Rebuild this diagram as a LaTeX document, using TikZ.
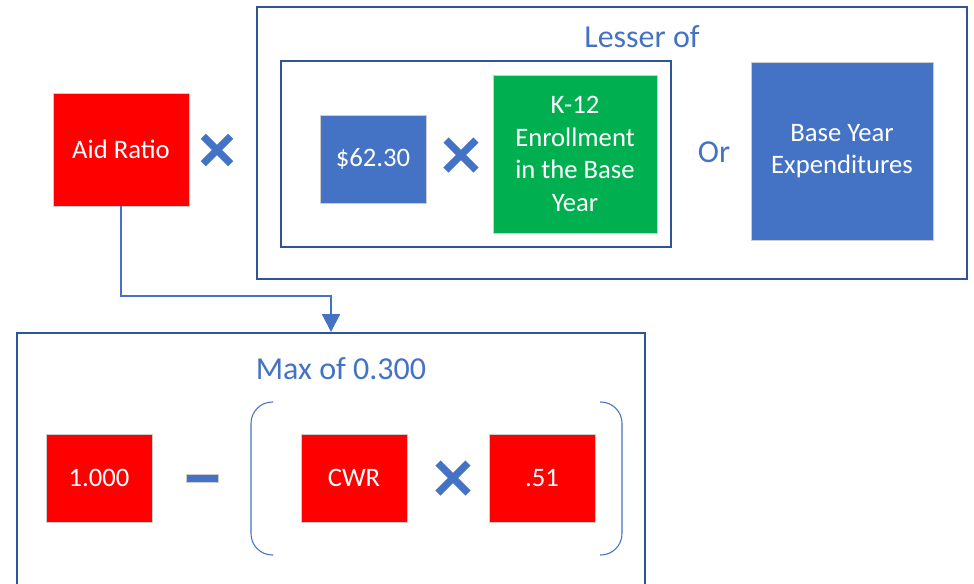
\documentclass[tikz,border=0pt]{standalone}
\usepackage{fontspec}
\setmainfont{Carlito}
\usetikzlibrary{shapes.misc,arrows.meta}
\definecolor{accblue}{HTML}{4472C4}
\definecolor{framebl}{HTML}{2F5597}
\definecolor{boxred}{HTML}{FF0000}
\definecolor{boxgreen}{HTML}{00B050}
\tikzset{
  box/.style={draw=black!20, line width=0.6pt, text=white, align=center, inner sep=0pt,
    font=\fontsize{20}{24.5}\selectfont},
  redbox/.style={box, fill=boxred},
  bluebox/.style={box, fill=accblue},
  greenbox/.style={box, fill=boxgreen},
  frame/.style={draw=framebl, line width=1.5pt, inner sep=0pt},
  timesmark/.style={cross out, draw=accblue, line width=5.5pt, inner sep=0pt},
  bluetext/.style={text=accblue, inner sep=0pt, font=\fontsize{24}{28}\selectfont},
}
\begin{document}
\begin{tikzpicture}[x=0.75pt,y=-0.75pt]
\useasboundingbox (0,0) rectangle (974,583);
\begin{scope}
\clip (0,0) rectangle (974,583);
% frames
\node[frame, minimum width=532.5pt, minimum height=204pt] (lesser) at (612,143) {};
\node[frame, minimum width=292.5pt, minimum height=139.5pt] (inner) at (476,154) {};
\node[frame, minimum width=471pt, minimum height=225pt] (maxbox) at (331,483) {};
\end{scope}
% labels
\node[bluetext] (lesserlbl) at (642,37) {Lesser of};
\node[bluetext] (orlbl) at (714,152) {Or};
\node[bluetext] (maxlbl) at (341,369) {Max of 0.300};
% boxes
\node[redbox, minimum width=102pt, minimum height=84.75pt] (aid) at (121,149.5) {Aid Ratio};
\node[bluebox, minimum width=79.5pt, minimum height=66pt] (rate) at (373,159) {\$62.30};
\node[greenbox, minimum width=123pt, minimum height=118.5pt] (enr) at (575,154) {K-12\\Enrollment\\in the Base\\Year};
\node[bluebox, minimum width=136.5pt, minimum height=133.5pt] (exp) at (842,151) {Base Year\\Expenditures};
\node[redbox, minimum width=79.5pt, minimum height=66pt] (one) at (99,478) {1.000};
\node[redbox, minimum width=79.5pt, minimum height=66pt] (cwr) at (354,478) {CWR};
\node[redbox, minimum width=79.5pt, minimum height=66pt] (fiftyone) at (542,478) {.51};
% operators
\node[timesmark, minimum size=15pt] (t1) at (217,150) {};
\node[timesmark, minimum size=17pt] (t2) at (461,155) {};
\node[timesmark, minimum size=17pt] (t3) at (453,478) {};
\node[fill=accblue, draw=black!20, line width=0.4pt, minimum width=24pt, minimum height=6pt, inner sep=0pt] (minus) at (202,478) {};
% brackets
\coordinate (lbt) at (273,402);
\coordinate (lbb) at (273,555);
\coordinate (rbt) at (600,402);
\coordinate (rbb) at (600,555);
\draw[accblue, line width=0.8pt, rounded corners=16pt] (lbt) -- (251,402) -- (251,555) -- (lbb);
\draw[accblue, line width=0.8pt, rounded corners=16pt] (rbt) -- (622,402) -- (622,555) -- (rbb);
% connector
\draw[accblue, line width=1.6pt, -{Triangle[width=13.5pt,length=13.5pt]}] (aid.south) |- (331,296) -- (maxbox.north);
\end{tikzpicture}
\end{document}
